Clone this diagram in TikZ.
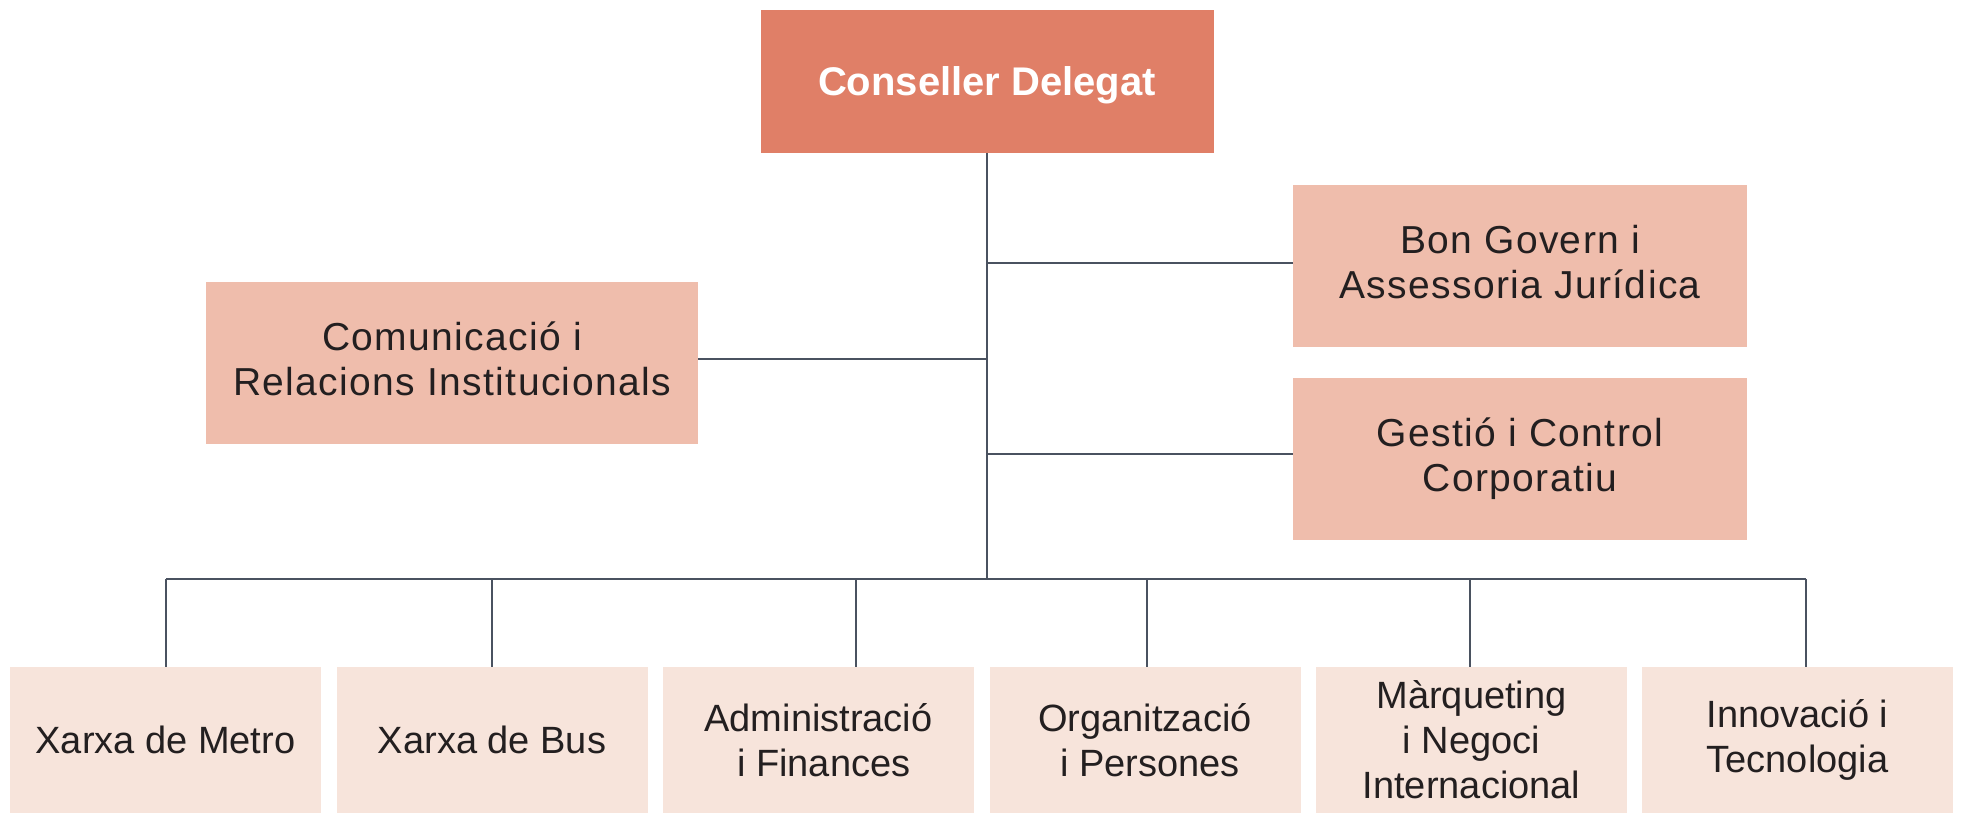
\documentclass[tikz,border=0pt]{standalone}
\usepackage{fontspec}
\setmainfont{Liberation Sans}
\newfontfamily\midfont[LetterSpace=3.5]{Liberation Sans}
\definecolor{topfill}{HTML}{E07F67}
\definecolor{midfill}{HTML}{EFBDAC}
\definecolor{lowfill}{HTML}{F7E4DB}
\definecolor{ink}{HTML}{231F20}
\definecolor{linecol}{HTML}{4A5260}
\begin{document}
\begin{tikzpicture}[x=0.5pt,y=-0.5pt,
  topbox/.style={fill=topfill,inner sep=0pt,minimum width=226.5pt,minimum height=71.5pt,text depth=0pt,text=white,font=\fontsize{20}{23}\selectfont\bfseries},
  midbox/.style={fill=midfill,inner sep=0pt,minimum height=81pt,text depth=4pt,align=center,text=ink,font=\midfont\fontsize{19.5}{22.5}\selectfont},
  lowbox/.style={fill=lowfill,inner sep=0pt,minimum width=155.5pt,minimum height=73pt,align=center,text=ink,font=\fontsize{19}{22.5}\selectfont},
  conn/.style={draw=linecol,line width=0.75pt}]
\useasboundingbox (0,0) rectangle (1961,813);
\node[topbox] (top) at (987,81.5) {Conseller Delegat};
\node[midbox,minimum width=227pt] (bon) at (1520,266) {Bon Govern i\\Assessoria Jurídica};
\node[midbox,minimum width=227pt] (gest) at (1520,458.5) {Gestió i Control\\Corporatiu};
\node[midbox,minimum width=246pt] (com) at (452,362.5) {Comunicació i\\Relacions Institucionals};
\node[lowbox] (b1) at (165.5,740) {Xarxa de Metro};
\node[lowbox] (b2) at (492,740) {Xarxa de Bus};
\node[lowbox] (b3) at (818.5,740) {Administració\\\ i Finances};
\node[lowbox] (b4) at (1145,740) {Organització\\\ i Persones};
\node[lowbox] (b5) at (1471.5,740) {Màrqueting\\i Negoci\\Internacional};
\node[lowbox] (b6) at (1797.5,740) {Innovació i\\Tecnologia};
\coordinate (j1) at (987,263);
\coordinate (j2) at (987,359);
\coordinate (j3) at (987,454);
\coordinate (bus) at (987,579);
\coordinate (busL) at (166,579);
\coordinate (busR) at (1806,579);
\coordinate (d2) at (492,579);
\coordinate (d3) at (856,579);
\coordinate (d4) at (1147,579);
\coordinate (d5) at (1470,579);
\draw[conn] (top.south) -- (bus);
\draw[conn] (j1) -- (j1 -| bon.west);
\draw[conn] (j2) -- (j2 -| com.east);
\draw[conn] (j3) -- (j3 -| gest.west);
\draw[conn] (busL) -- (busR);
\draw[conn] (busL) -- (busL |- b1.north);
\draw[conn] (d2) -- (d2 |- b2.north);
\draw[conn] (d3) -- (d3 |- b3.north);
\draw[conn] (d4) -- (d4 |- b4.north);
\draw[conn] (d5) -- (d5 |- b5.north);
\draw[conn] (busR) -- (busR |- b6.north);
\end{tikzpicture}
\end{document}
